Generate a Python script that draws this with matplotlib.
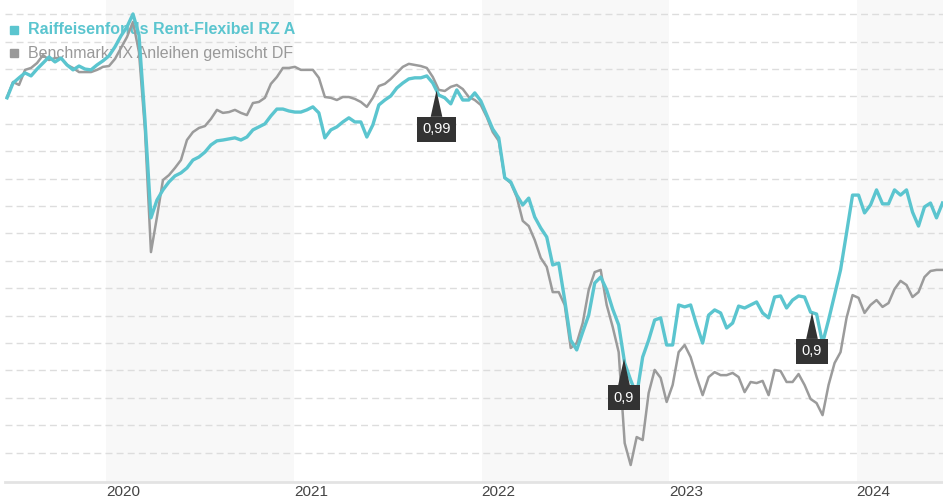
import matplotlib.pyplot as plt
import matplotlib.dates as mdates
import numpy as np
import pandas as pd

plt.rcParams['font.family'] = ['Liberation Sans', 'DejaVu Sans']

fund_name = 'Raiffeisenfonds Rent-Flexibel RZ A'
bench_name = 'Benchmark: IX Anleihen gemischt DF'

# roughly every 11-12 days
dates = pd.date_range('2019-06-22', '2024-06-16', periods=157)

fund = [99.95, 100.49, 100.68, 100.86, 100.75, 101.00, 101.22, 101.44, 101.26, 101.40,
        101.15, 100.97, 101.11, 101.00, 100.97, 101.15, 101.30, 101.48, 101.81, 102.21,
        102.54, 103.01, 102.24, 99.14, 95.57, 96.22, 96.59, 96.88, 97.10, 97.21,
        97.39, 97.68, 97.79, 97.97, 98.23, 98.38, 98.41, 98.45, 98.49, 98.41,
        98.52, 98.78, 98.89, 99.00, 99.29, 99.54, 99.54, 99.47, 99.43, 99.43,
        99.51, 99.62, 99.40, 98.49, 98.78, 98.89, 99.07, 99.22, 99.07, 99.07,
        98.52, 98.96, 99.69, 99.87, 100.02, 100.31, 100.49, 100.64, 100.68, 100.68,
        100.75, 100.49, 100.05, 99.95, 99.73, 100.24, 99.87, 99.87, 100.13, 99.84,
        99.32, 98.81, 98.49, 97.03, 96.88, 96.40, 96.04, 96.29, 95.60, 95.20,
        94.87, 93.85, 93.92, 92.57, 91.11, 90.75, 91.40, 92.02, 93.19, 93.41,
        92.94, 92.24, 91.66, 90.27, 89.65, 89.10, 90.49, 91.11, 91.84, 91.92,
        90.93, 90.93, 92.39, 92.32, 92.39, 91.66, 91.00, 92.02, 92.21, 92.10,
        91.55, 91.73, 92.35, 92.28, 92.39, 92.50, 92.10, 91.92, 92.68, 92.72,
        92.28, 92.57, 92.72, 92.68, 92.13, 92.06, 91.00, 91.84, 92.75, 93.67,
        95.02, 96.40, 96.40, 95.75, 96.04, 96.59, 96.08, 96.08, 96.59, 96.40,
        96.59, 95.78, 95.27, 95.97, 96.11, 95.57, 96.11]

bench = [99.98, 100.53, 100.42, 100.97, 101.04, 101.22, 101.51, 101.33, 101.40, 101.40,
         101.15, 101.04, 100.89, 100.89, 100.89, 100.97, 101.08, 101.11, 101.37, 101.77,
         102.17, 102.72, 101.62, 98.78, 94.32, 95.60, 96.95, 97.13, 97.39, 97.68,
         98.41, 98.70, 98.85, 98.92, 99.18, 99.51, 99.40, 99.43, 99.51, 99.40,
         99.32, 99.76, 99.80, 99.95, 100.46, 100.71, 101.04, 101.04, 101.08, 100.97,
         100.97, 100.97, 100.68, 99.98, 99.95, 99.87, 99.98, 99.98, 99.91, 99.80,
         99.62, 99.95, 100.38, 100.46, 100.64, 100.86, 101.08, 101.19, 101.15, 101.11,
         101.04, 100.71, 100.24, 100.20, 100.35, 100.42, 100.27, 99.98, 99.87, 99.69,
         99.25, 98.70, 98.38, 97.03, 96.84, 96.33, 95.46, 95.27, 94.76, 94.11,
         93.78, 92.86, 92.86, 92.39, 90.82, 91.00, 91.73, 92.94, 93.59, 93.67,
         92.39, 91.59, 90.67, 87.35, 86.55, 87.57, 87.46, 89.18, 90.02, 89.73,
         88.85, 89.47, 90.67, 90.93, 90.49, 89.76, 89.10, 89.76, 89.94, 89.83,
         89.83, 89.91, 89.76, 89.21, 89.58, 89.54, 89.62, 89.10, 90.02, 89.98,
         89.58, 89.58, 89.87, 89.47, 88.96, 88.81, 88.37, 89.47, 90.27, 90.67,
         91.92, 92.75, 92.65, 92.10, 92.39, 92.57, 92.32, 92.46, 92.97, 93.27,
         93.12, 92.68, 92.86, 93.41, 93.63, 93.67, 93.67]

div_dates = pd.to_datetime(['2021-10-05', '2022-10-05', '2023-10-06'])
div_amounts = [0.99, 0.9, 0.9]

years = [2020, 2021, 2022, 2023, 2024]

teal = '#5bc5cf'
grey = '#9b9b9b'

fig = plt.figure(figsize=(9.43, 5.0), dpi=100)
ax = fig.add_axes([5 / 943, 18 / 500, 938 / 943, 482 / 500])

# shaded every other year
for yr in (2020, 2022, 2024):
    ax.axvspan(pd.Timestamp(f'{yr}-01-01'), pd.Timestamp(f'{yr + 1}-01-01'),
               color='#f8f8f8', lw=0, zorder=0)

ax.set_yticks(np.arange(87, 104))
ax.yaxis.grid(True, color='#dddddd', ls=(0, (5, 3)), lw=1)
ax.set_axisbelow(True)
ax.tick_params(axis='y', left=False, labelleft=False)

ax.plot(dates, bench, color=grey, lw=1.8, zorder=3)
ax.plot(dates, fund, color=teal, lw=2.4, zorder=4)

# legend sits under the lines
ax.plot([0.0095], [0.938], marker='s', ms=6, color=teal, ls='none',
        transform=ax.transAxes, clip_on=False, zorder=2)
ax.text(0.0245, 0.938, fund_name, transform=ax.transAxes, color=teal,
        fontsize=11.5, fontweight='bold', va='center', zorder=2)
ax.plot([0.0095], [0.890], marker='s', ms=6, color='#999999', ls='none',
        transform=ax.transAxes, clip_on=False, zorder=2)
ax.text(0.0245, 0.890, bench_name, transform=ax.transAxes, color='#999999',
        fontsize=11.5, va='center', zorder=2)

# distribution markers
xnum = mdates.date2num(dates)
for d, amt in zip(div_dates, div_amounts):
    yv = np.interp(mdates.date2num(d), xnum, fund)
    ax.annotate(f'{amt:g}'.replace('.', ','), xy=(d, yv), xytext=(0, -28),
                textcoords='offset points', ha='center', va='center',
                color='white', fontsize=10.5, zorder=6,
                bbox=dict(boxstyle='square,pad=0.38', fc='#333333', ec='none'),
                arrowprops=dict(arrowstyle='wedge,tail_width=0.8', fc='#333333',
                                ec='none', shrinkA=0, shrinkB=0))

ax.set_xlim(pd.Timestamp('2019-06-18'), pd.Timestamp('2024-06-17'))
ax.set_ylim(85.93, 103.52)

ax.set_xticks([pd.Timestamp(f'{y}-01-01') for y in years])
ax.set_xticklabels([str(y) for y in years])
for lbl in ax.get_xticklabels():
    lbl.set_ha('left')
ax.tick_params(axis='x', length=0, pad=2, labelsize=11, labelcolor='#444444')

for s in ('top', 'left', 'right'):
    ax.spines[s].set_visible(False)
ax.spines['bottom'].set_color('#e3e3e3')
ax.spines['bottom'].set_linewidth(2)

fig.savefig('out.png', dpi=100)
